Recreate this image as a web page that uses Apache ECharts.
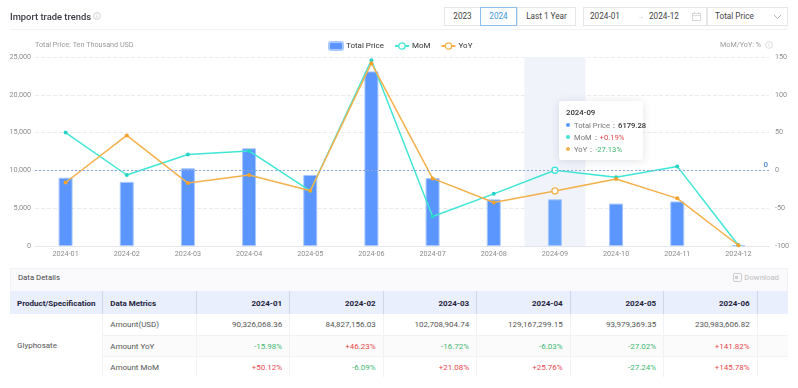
<!DOCTYPE html>
<html>
<head>
<meta charset="utf-8">
<script src="https://cdn.jsdelivr.net/npm/echarts@6/dist/echarts.min.js"></script>
<style>
html,body{margin:0;padding:0;background:#fff;width:798px;height:388px;overflow:hidden;font-family:Roboto,"Noto Sans",sans-serif;color:#333}
.abs{position:absolute;box-sizing:border-box}
#chart{position:absolute;left:0;top:0;width:798px;height:266px}
.title{left:10px;top:8px;font-size:9.4px;font-weight:500;color:#3a3a44;line-height:17px}
.rule{left:10px;top:29px;width:778px;height:1px;background:#f3f3f5}
.btn{top:7px;height:19px;border:1px solid #e6e6ea;font-size:8.2px;line-height:17px;text-align:center;color:#444;background:#fff}
.btn.on{border-color:#8cc0ea;color:#3f96dc}
.t{font-size:8.2px;line-height:17px;color:#444;top:8px}
#details{left:10px;top:268px;width:778px;height:109px;overflow:hidden}
#details .bar{height:23px;background:#fafafc;border:1px solid #f2f2f5;border-bottom:0;box-sizing:border-box;font-size:7.8px;line-height:18px;padding-left:7px;color:#444;position:relative}
#details .dl{position:absolute;right:8px;top:0;color:#c8c8c8;font-weight:500;font-size:7.8px}
table{border-collapse:collapse;table-layout:fixed;width:778px;font-size:8px}
th{height:23px;padding:1px 7px 0;background:#e9effd;color:#23233a;font-weight:700;border-right:1px solid #cfd6e8;text-align:right;box-sizing:border-box}
th.l,td.l{text-align:left}
td{height:21px;padding:1px 7px 0;box-sizing:border-box;text-align:right;color:#555;border-right:1px solid #f2f2f4;border-bottom:1px solid #f2f2f4}
tr.alt td{background:#fbfbfb}
td.p{background:#fff!important;color:#555}
.up{color:#e8474c!important}.dn{color:#3eb871!important}
</style>
</head>
<body>
<div id="chart"></div>

<div class="abs title">Import trade trends</div>
<svg class="abs" style="left:93px;top:12px" width="8" height="8" viewBox="0 0 8 8"><circle cx="4" cy="4" r="3.4" fill="none" stroke="#bdbdbd" stroke-width=".7"/><path d="M4 3.4V6M4 2v.7" stroke="#bdbdbd" stroke-width=".7"/></svg>
<div class="abs rule"></div>

<div class="abs btn" style="left:444px;width:37px">2023</div>
<div class="abs btn" style="left:517px;width:59px">Last 1 Year</div>
<div class="abs btn on" style="left:480px;width:37px">2024</div>
<div class="abs btn" style="left:583px;width:124px"></div>
<div class="abs btn" style="left:707px;width:81px"></div>
<div class="abs t" style="left:590px">2024-01</div>
<div class="abs t" style="left:636px;color:#ccc">→</div>
<div class="abs t" style="left:649px">2024-12</div>
<svg class="abs" style="left:692px;top:12px" width="9" height="9" viewBox="0 0 9 9"><rect x=".5" y="1.5" width="8" height="7" fill="none" stroke="#cfcfcf" stroke-width=".8"/><path d="M.5 3.6h8M2.5 0v2M6.5 0v2" stroke="#cfcfcf" stroke-width=".8"/></svg>
<div class="abs t" style="left:715px">Total Price</div>
<svg class="abs" style="left:773px;top:14px" width="9" height="6" viewBox="0 0 9 6"><path d="M1 1l3.5 3.5L8 1" fill="none" stroke="#aaa" stroke-width=".9"/></svg>
<svg class="abs" style="left:765px;top:41px" width="8" height="8" viewBox="0 0 8 8"><circle cx="4" cy="4" r="3.4" fill="none" stroke="#cfcfcf" stroke-width=".7"/><path d="M4 3.4V6M4 2v.7" stroke="#cfcfcf" stroke-width=".7"/></svg>

<div class="abs" id="details">
  <div class="bar">Data Details<span class="dl"><svg width="9" height="9" viewBox="0 0 9 9" style="vertical-align:-2px;margin-right:2px"><rect x=".5" y=".5" width="8" height="8" rx="1.5" fill="none" stroke="#ccc"/><rect x="2" y="3" width="3" height="3" fill="#ccc"/></svg>Download</span></div>
  <table id="tbl"></table>
</div>

<script>
var categories = ['2024-01','2024-02','2024-03','2024-04','2024-05','2024-06','2024-07','2024-08','2024-09','2024-10','2024-11','2024-12'];
var totalPrice = [9032.61, 8482.72, 10270.89, 12916.73, 9397.94, 23098.36, 8980, 6167.56, 6179.28, 5610, 5890, 110];
var momValues = [50.12, -6.09, 21.08, 25.76, -27.24, 145.78, -61, -31, 0.19, -9.2, 5.3, -99];
var yoyValues = [-15.98, 46.23, -16.72, -6.03, -27.02, 141.82, -10.6, -42.4, -27.13, -11.4, -37, -99];
var leftTicks = {min: 0, max: 25000, interval: 5000};
var rightTicks = {min: -100, max: 150, interval: 50};
var hoverIndex = 8;

var tableMonths = ['2024-01','2024-02','2024-03','2024-04','2024-05','2024-06',''];
var amountUsd = ['90,326,068.36','84,827,156.03','102,708,904.74','129,167,299.15','93,979,369.35','230,983,606.82',''];
var amountYoy = ['-15.98%','+46.23%','-16.72%','-6.03%','-27.02%','+141.82%',''];
var amountMom = ['+50.12%','-6.09%','+21.08%','+25.76%','-27.24%','+145.78%',''];

var colBar = '#5b96ff', colMom = '#3fe6d6', colYoy = '#f4b04a';

function sign(v){ return v > 0 ? '+' + v.toFixed(2) + '%' : v.toFixed(2) + '%'; }
function pct(v){
  return '<span style="color:' + (v > 0 ? '#e8474c' : '#3eb871') + '">' + sign(v) + '</span>';
}
function dot(c){
  return '<span style="display:inline-block;width:4px;height:4px;border-radius:50%;background:' + c + ';margin-right:4px;vertical-align:1px"></span>';
}
function lineData(values, color){
  return values.map(function(v, i){
    return i === hoverIndex
      ? {value: v, symbolSize: 5, itemStyle: {color: '#fff', borderColor: color, borderWidth: 1.3}}
      : v;
  });
}

var chart = echarts.init(document.getElementById('chart'), null, {renderer: 'canvas'});
chart.setOption({
  animation: false,
  textStyle: {fontFamily: 'Roboto, "Noto Sans", sans-serif'},
  grid: {left: 35, right: 29, top: 57, bottom: 20},
  legend: {
    top: 41, left: 328, padding: 0, itemWidth: 14, itemHeight: 8, itemGap: 10,
    textStyle: {fontSize: 8, color: '#333', padding: [0, 0, 0, -2]},
    data: [
      {name: 'Total Price', icon: 'roundRect'},
      {name: 'MoM', itemStyle: {color: '#fff', borderColor: colMom, borderWidth: 1.3}},
      {name: 'YoY', itemStyle: {color: '#fff', borderColor: colYoy, borderWidth: 1.3}}
    ]
  },
  tooltip: {
    trigger: 'axis',
    axisPointer: {type: 'shadow', z: 1, shadowStyle: {color: '#f0f3fa', opacity: 1}},
    alwaysShowContent: true,
    transitionDuration: 0,
    backgroundColor: '#fff',
    borderWidth: 0,
    padding: [5, 7, 5, 7],
    extraCssText: 'box-shadow:0 1px 8px rgba(60,70,100,.16);border-radius:3px;width:84px;height:59px;box-sizing:border-box;',
    position: function(){ return [559, 101]; },
    formatter: function(params){
      var i = params[0].dataIndex;
      var row = 'font-size:7.6px;line-height:12px;color:#777;white-space:nowrap;';
      return '<div style="font-size:7.8px;line-height:13px;color:#333;font-weight:500;margin-bottom:1px">' + categories[i] + '</div>'
        + '<div style="' + row + '">' + dot(colBar) + 'Total Price：<span style="color:#333;font-weight:500">' + totalPrice[i].toFixed(2) + '</span></div>'
        + '<div style="' + row + '">' + dot(colMom) + 'MoM：' + pct(momValues[i]) + '</div>'
        + '<div style="' + row + '">' + dot(colYoy) + 'YoY：' + pct(yoyValues[i]) + '</div>';
    }
  },
  xAxis: {
    type: 'category',
    data: categories,
    axisTick: {show: false},
    axisLine: {lineStyle: {color: '#e6e6ea'}},
    axisLabel: {fontSize: 7.2, color: '#8c8c8c', margin: 5, interval: 0}
  },
  yAxis: [
    {
      type: 'value', min: leftTicks.min, max: leftTicks.max, interval: leftTicks.interval,
      name: 'Total Price: Ten Thousand USD',
      nameGap: 8,
      nameTextStyle: {fontSize: 7.2, color: '#9a9a9a', align: 'left'},
      axisLabel: {fontSize: 7.2, color: '#8c8c8c', margin: 4,
        formatter: function(v){ return v.toLocaleString('en-US'); }},
      axisLine: {show: false}, axisTick: {show: false},
      splitLine: {lineStyle: {type: 'dashed', color: '#ececf0'}}
    },
    {
      type: 'value', min: rightTicks.min, max: rightTicks.max, interval: rightTicks.interval,
      name: 'MoM/YoY: %',
      nameGap: 8,
      nameTextStyle: {fontSize: 7.2, color: '#9a9a9a', align: 'right', padding: [0, 8, 0, 0]},
      axisLabel: {fontSize: 7.2, color: '#8c8c8c', margin: 6},
      axisLine: {show: false}, axisTick: {show: false},
      splitLine: {show: false}
    }
  ],
  series: [
    {
      name: 'Total Price', type: 'bar', barWidth: 14, yAxisIndex: 0,
      itemStyle: {color: colBar, borderColor: '#a9c8ff', borderWidth: 1},
      emphasis: {disabled: true},
      data: totalPrice.map(function(v, i){
        return i === hoverIndex ? {value: v, itemStyle: {color: '#66a3ff', borderColor: '#a9c8ff', borderWidth: 1}} : v;
      })
    },
    {
      name: 'MoM', type: 'line', yAxisIndex: 1, symbol: 'circle', symbolSize: 4,
      lineStyle: {color: colMom, width: 1.5},
      itemStyle: {color: '#27d3c4'},
      emphasis: {disabled: true},
      data: lineData(momValues, colMom),
      markLine: {
        silent: true, symbol: 'none', animation: false,
        lineStyle: {type: [2, 2], color: '#88a6dc', width: 1.2},
        label: {position: 'insideEndTop', distance: 1, formatter: '0', fontSize: 8, fontWeight: 600, color: '#5b8fd6'},
        data: [{yAxis: 0}]
      }
    },
    {
      name: 'YoY', type: 'line', yAxisIndex: 1, symbol: 'circle', symbolSize: 4,
      lineStyle: {color: colYoy, width: 1.5},
      itemStyle: {color: '#f5a22f'},
      emphasis: {disabled: true},
      data: lineData(yoyValues, colYoy)
    }
  ]
});
chart.dispatchAction({type: 'showTip', seriesIndex: 0, dataIndex: hoverIndex});

function cls(s){ return s === '' ? '' : (s.charAt(0) === '+' ? 'up' : 'dn'); }
var widths = [92.7, 93.5, 93.5, 93.5, 93.5, 93.5, 93.5, 93.5, 31.2];
var html = '<colgroup>' + widths.map(function(w){ return '<col style="width:' + w + 'px">'; }).join('') + '</colgroup>';
html += '<tr><th class="l">Product/Specification</th><th class="l">Data Metrics</th>'
  + tableMonths.map(function(m){ return '<th>' + m + '</th>'; }).join('') + '<th style="border-right:0"></th></tr>';
html += '<tr><td class="l p" rowspan="3">Glyphosate</td><td class="l">Amount(USD)</td>'
  + amountUsd.map(function(v){ return '<td>' + v + '</td>'; }).join('') + '<td style="border-right:0"></td></tr>';
html += '<tr class="alt"><td class="l">Amount YoY</td>'
  + amountYoy.map(function(v){ return '<td class="' + cls(v) + '">' + v + '</td>'; }).join('') + '<td style="border-right:0"></td></tr>';
html += '<tr><td class="l">Amount MoM</td>'
  + amountMom.map(function(v){ return '<td class="' + cls(v) + '">' + v + '</td>'; }).join('') + '<td style="border-right:0"></td></tr>';
document.getElementById('tbl').innerHTML = html;
</script>
</body>
</html>
